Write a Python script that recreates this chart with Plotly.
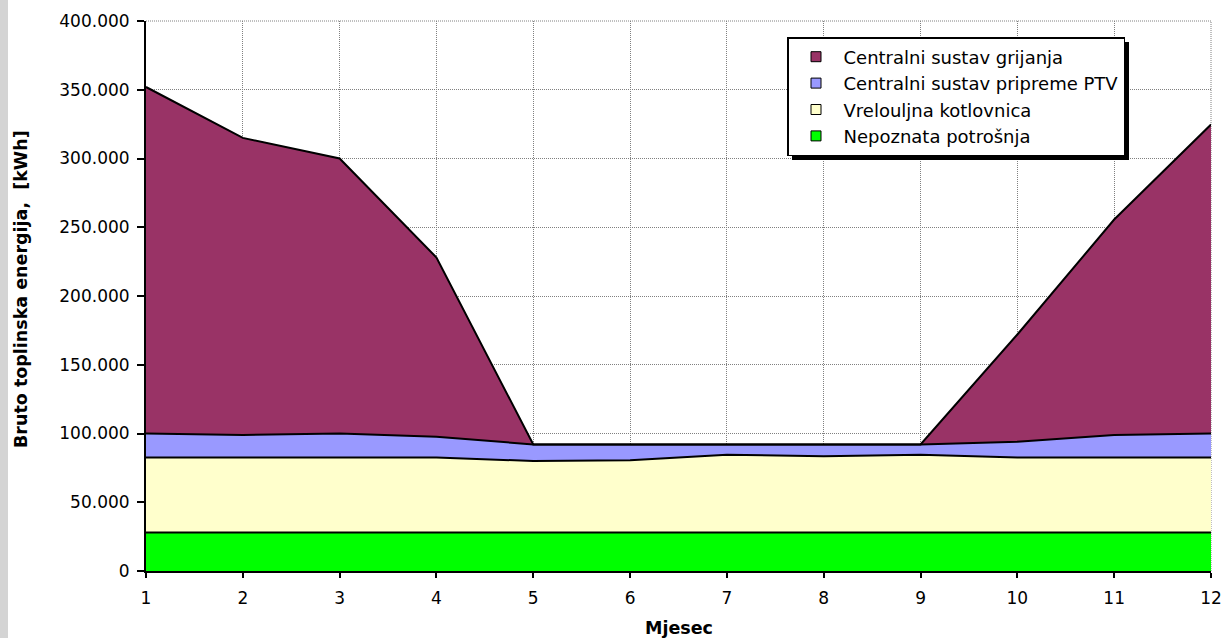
import plotly.graph_objects as go

# ---- data (kWh per month) ----
months = [1, 2, 3, 4, 5, 6, 7, 8, 9, 10, 11, 12]
nepoznata = [28000, 28000, 28000, 28000, 28000, 28000, 28000, 28000, 28000, 28000, 28000, 28000]
vrelouljna = [54500, 54500, 54500, 54500, 52000, 52500, 56500, 55500, 56500, 54500, 54500, 54500]
ptv = [17500, 16500, 17500, 15200, 12000, 11500, 7500, 8500, 7500, 11500, 16500, 17500]
grijanje = [252000, 216000, 200000, 130300, 0, 0, 0, 0, 0, 78000, 156600, 224700]

series_names = ["Nepoznata potrošnja", "Vrelouljna kotlovnica",
                "Centralni sustav pripreme PTV", "Centralni sustav grijanja"]
series_colors = ["#00FF00", "#FFFFCC", "#9999FF", "#993366"]
series_values = [nepoznata, vrelouljna, ptv, grijanje]

y_tickvals = [0, 50000, 100000, 150000, 200000, 250000, 300000, 350000, 400000]
y_ticktext = ["0", "50.000", "100.000", "150.000", "200.000", "250.000",
              "300.000", "350.000", "400.000"]

# ---- geometry (pixels) ----
W, H = 1225, 638
ML, MR, MT, MB = 146, 14, 21, 67
PW, PH = W - ML - MR, H - MT - MB


def px_x(p):
    return (p - ML) / PW


def px_y(p):
    return (H - MB - p) / PH


FONT = "DejaVu Sans, Verdana, sans-serif"
GRID = "#808080"
DOTS = "1px,1px"

fig = go.Figure()
for name, color, vals in zip(series_names, series_colors, series_values):
    fig.add_trace(go.Scatter(
        x=months, y=vals, name=name, stackgroup="one", mode="lines",
        line=dict(color="black", width=2), fillcolor=color,
        showlegend=False, hoverinfo="x+y+name",
    ))

# legend entries (square swatches), top-to-bottom order
for rank, (name, color) in enumerate(zip(series_names[::-1], series_colors[::-1])):
    fig.add_trace(go.Scatter(
        x=[None], y=[None], name=name, mode="markers",
        marker=dict(symbol="square", size=10, color=color,
                    line=dict(color="black", width=1)),
        legendrank=rank + 1, showlegend=True,
    ))

axis_common = dict(
    showline=True, linecolor="black", linewidth=2,
    ticks="outside", tickcolor="black", tickwidth=1.5,
    showgrid=True, gridcolor=GRID, gridwidth=1, griddash=DOTS,
    zeroline=False, automargin=False,
    tickfont=dict(family=FONT, size=17, color="black"),
)

fig.update_layout(
    width=W, height=H,
    margin=dict(l=ML, r=MR, t=MT, b=MB, autoexpand=False),
    paper_bgcolor="white", plot_bgcolor="white",
    xaxis=dict(range=[1, 12], tickmode="array", tickvals=months,
               ticklen=5, ticklabelstandoff=6, **axis_common),
    yaxis=dict(range=[0, 400000], tickmode="array", tickvals=y_tickvals,
               ticktext=y_ticktext, ticklen=7, ticklabelstandoff=4, **axis_common),
    legend=dict(
        x=px_x(787), y=px_y(37), xanchor="left", yanchor="top",
        bgcolor="white", bordercolor="black", borderwidth=1.5,
        font=dict(family=FONT, size=18, color="black"),
        itemwidth=45, traceorder="normal",
    ),
    showlegend=True,
    annotations=[
        dict(text="<b>Bruto toplinska energija,\u00a0 [kWh]</b>", textangle=-90,
             x=px_x(21), y=px_y(289), xref="paper", yref="paper",
             xanchor="center", yanchor="middle", showarrow=False,
             font=dict(family=FONT, size=17.5, color="black")),
        dict(text="<b>Mjesec</b>",
             x=0.5, y=px_y(628), xref="paper", yref="paper",
             xanchor="center", yanchor="middle", showarrow=False,
             font=dict(family=FONT, size=17.5, color="black")),
    ],
    shapes=[
        # gray page edge at the left
        dict(type="rect", xref="paper", yref="paper",
             x0=px_x(0), x1=px_x(8), y0=px_y(H), y1=px_y(0),
             fillcolor="#d4d4d4", line=dict(width=0), layer="below"),
        # dotted frame on top and right of the plot area
        dict(type="line", xref="paper", yref="paper", x0=0, x1=1, y0=1, y1=1,
             line=dict(color=GRID, width=1, dash=DOTS), layer="below"),
        dict(type="line", xref="paper", yref="paper", x0=1, x1=1, y0=0, y1=1,
             line=dict(color=GRID, width=1, dash=DOTS), layer="below"),
        # legend drop shadow
        dict(type="rect", xref="paper", yref="paper",
             x0=px_x(792), x1=px_x(1129), y0=px_y(160), y1=px_y(42),
             fillcolor="black", line=dict(width=0), layer="above"),
    ],
)

fig.write_html("out.html")
